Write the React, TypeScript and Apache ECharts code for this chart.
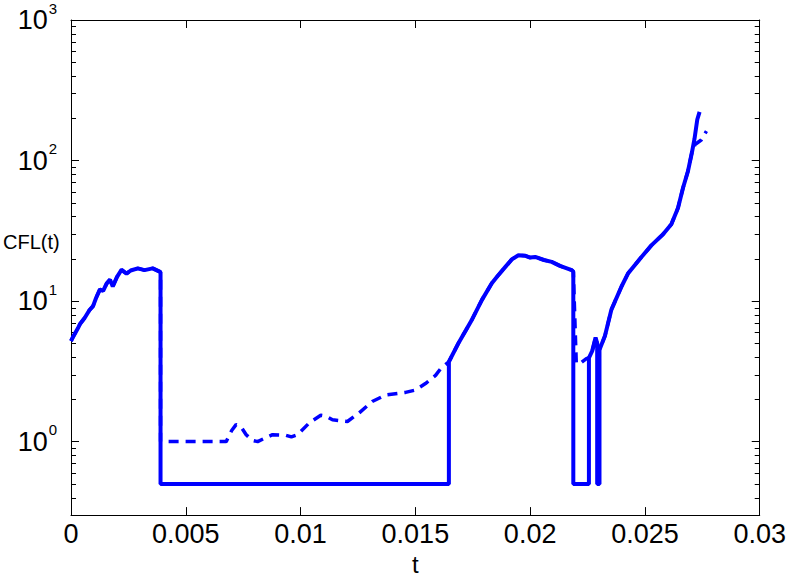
import React, { useEffect, useRef } from "react";
import * as echarts from "echarts";

// ---- data ----
const solidT = [
  0, 0.0001, 0.0003, 0.0004, 0.0006, 0.0008, 0.00096, 0.0011, 0.00126, 0.0014,
  0.00155, 0.0017, 0.00182, 0.002, 0.0022, 0.00242, 0.0026, 0.00291, 0.0032, 0.00356,
  0.00386, 0.0039, 0.0039, 0.01646, 0.01646, 0.0169, 0.0172, 0.01747, 0.0179, 0.01833,
  0.0186, 0.01892, 0.0192, 0.01949, 0.0198, 0.02, 0.02022, 0.0206, 0.02094, 0.0213,
  0.02181, 0.02188, 0.02188, 0.02256, 0.02256, 0.0227, 0.02285, 0.02292, 0.02292, 0.02302,
  0.02302, 0.02326, 0.02354, 0.02398, 0.02427, 0.02485, 0.02528, 0.02579, 0.02615, 0.02644,
  0.02666, 0.02687, 0.02705, 0.02716, 0.02728, 0.02738,
];
const solidV = [
  5.2, 5.6, 6.4, 6.9, 7.6, 8.6, 9.2, 10.6, 12.1, 11.8,
  13.3, 14.2, 12.7, 14.8, 16.7, 15.7, 16.5, 17.1, 16.6, 17.1,
  16.2, 16.0, 0.5, 0.5, 3.7, 5.1, 6.2, 7.4, 10.2, 13.4,
  15.2, 17.5, 19.8, 21.2, 21.0, 20.4, 20.6, 19.6, 19.0, 17.8,
  16.6, 16.2, 0.5, 0.5, 3.95, 4.4, 5.5, 5.0, 0.5, 0.5,
  4.5, 5.66, 8.7, 12.7, 15.8, 20.6, 24.9, 29.9, 35.2, 46,
  64, 83.5, 115, 143, 196, 222,
];

const dashedT = [
  0, 0.0001, 0.0003, 0.0004, 0.0006, 0.0008, 0.00096, 0.0011, 0.00126, 0.0014,
  0.00155, 0.0017, 0.00182, 0.002, 0.0022, 0.00242, 0.0026, 0.00291, 0.0032, 0.00356,
  0.00386, 0.0039, 0.0039, 0.00676, 0.007, 0.00719, 0.0074, 0.00763, 0.0079, 0.00813,
  0.00845, 0.00878, 0.00936, 0.0096, 0.00987, 0.01038, 0.01088, 0.0111, 0.01139, 0.01204,
  0.01255, 0.01312, 0.01371, 0.01457, 0.01501, 0.01544, 0.01588, 0.0161, 0.01646, 0.0169,
  0.0172, 0.01747, 0.0179, 0.01833, 0.0186, 0.01892, 0.0192, 0.01949, 0.0198, 0.02,
  0.02022, 0.0206, 0.02094, 0.0213, 0.02181, 0.02188, 0.02201, 0.02218, 0.02245, 0.02256,
  0.0227, 0.02285, 0.02292, 0.02302, 0.02326, 0.02354, 0.02398, 0.02427, 0.02485, 0.02528,
  0.02579, 0.02615, 0.02644, 0.02666, 0.02687, 0.02705, 0.02718, 0.02745, 0.02768,
];
const dashedV = [
  5.2, 5.6, 6.4, 6.9, 7.6, 8.6, 9.2, 10.6, 12.1, 11.8,
  13.3, 14.2, 12.7, 14.8, 16.7, 15.7, 16.5, 17.1, 16.6, 17.1,
  16.2, 16.0, 1.0, 1.0, 1.2, 1.32, 1.28, 1.12, 1.02, 1.0,
  1.06, 1.12, 1.11, 1.08, 1.12, 1.36, 1.54, 1.52, 1.43, 1.39,
  1.6, 1.93, 2.15, 2.24, 2.33, 2.59, 2.96, 3.3, 3.7, 5.1,
  6.2, 7.4, 10.2, 13.4, 15.2, 17.5, 19.8, 21.2, 21.0, 20.4,
  20.6, 19.6, 19.0, 17.8, 16.6, 16.2, 3.6, 3.6, 3.9, 3.95,
  4.4, 5.5, 5.0, 4.5, 5.66, 8.7, 12.7, 15.8, 20.6, 24.9,
  29.9, 35.2, 46, 64, 83.5, 115, 130, 140, 162,
];

const xTickValues = [0, 0.005, 0.01, 0.015, 0.02, 0.025, 0.03];
const yMajorTicks = [1, 10, 100, 1000];
const yMinorTicks = [
  0.4, 0.5, 0.6, 0.7, 0.8, 0.9,
  2, 3, 4, 5, 6, 7, 8, 9,
  20, 30, 40, 50, 60, 70, 80, 90,
  200, 300, 400, 500, 600, 700, 800, 900,
];

const X_MIN = xTickValues[0];
const X_MAX = xTickValues[xTickValues.length - 1];
const Y_MIN = 0.3;
const Y_MAX = yMajorTicks[yMajorTicks.length - 1];

const FONT = "Liberation Sans, Arial, sans-serif";
const BLUE = "#0000ff";

function zip(a: number[], b: number[]) {
  return a.map((v, i) => [v, b[i]]);
}

export default function App() {
  const ref = useRef<HTMLDivElement>(null);

  useEffect(() => {
    if (!ref.current) return;
    const chart = echarts.init(ref.current, null, { renderer: "svg" });

    const yLabel = {
      show: true,
      margin: 14,
      formatter: (v: number) => {
        const e = Math.log10(v);
        const r = Math.round(e);
        if (Math.abs(e - r) > 1e-6 || !yMajorTicks.some((m) => Math.abs(Math.log10(m) - r) < 1e-6)) return "";
        return `{b|10}{e|${r}}`;
      },
      rich: {
        b: { fontSize: 27, lineHeight: 27, fontFamily: FONT, color: "#000", verticalAlign: "middle" },
        e: {
          fontSize: 15,
          lineHeight: 15,
          fontFamily: FONT,
          color: "#000",
          verticalAlign: "middle",
          padding: [0, 0, 24, 1],
        },
      },
    };

    const option: any = {
      animation: false,
      backgroundColor: "#fff",
      grid: { left: 71, top: 20, right: 27, bottom: 59, containLabel: false },
      xAxis: [
        {
          type: "value",
          min: X_MIN,
          max: X_MAX,
          interval: 0.005,
          position: "bottom",
          name: "t",
          nameLocation: "middle",
          nameGap: 36,
          nameTextStyle: { fontSize: 24, fontFamily: FONT, color: "#000" },
          axisLine: { show: true, onZero: false, lineStyle: { color: "#000", width: 1 } },
          axisTick: { show: true, inside: true, length: 8, lineStyle: { color: "#000" } },
          axisLabel: {
            show: true,
            margin: 5,
            fontSize: 27,
            fontFamily: FONT,
            color: "#000",
            formatter: (v: number) => {
              const m = xTickValues.find((t) => Math.abs(t - v) < 1e-9);
              return m === undefined ? "" : String(m);
            },
          },
          splitLine: { show: false },
        },
        {
          type: "value",
          min: X_MIN,
          max: X_MAX,
          interval: 0.005,
          position: "top",
          axisLine: { show: true, onZero: false, lineStyle: { color: "#000", width: 1 } },
          axisTick: { show: true, inside: true, length: 8, lineStyle: { color: "#000" } },
          axisLabel: { show: false },
          splitLine: { show: false },
        },
      ],
      yAxis: [
        {
          type: "log",
          logBase: 10,
          min: Y_MIN,
          max: Y_MAX,
          position: "left",
          axisLine: { show: true, onZero: false, lineStyle: { color: "#000", width: 1 } },
          axisTick: { show: true, inside: true, length: 8, lineStyle: { color: "#000" } },
          axisLabel: yLabel,
          splitLine: { show: false },
          minorTick: { show: false },
        },
        {
          type: "log",
          logBase: 10,
          min: Y_MIN,
          max: Y_MAX,
          position: "right",
          axisLine: { show: true, onZero: false, lineStyle: { color: "#000", width: 1 } },
          axisTick: { show: true, inside: true, length: 8, lineStyle: { color: "#000" } },
          axisLabel: { show: false },
          splitLine: { show: false },
        },
      ],
      graphic: [
        {
          type: "text",
          left: 3,
          top: 232,
          style: { text: "CFL(t)", fontSize: 20, fontFamily: FONT, fill: "#000" },
        },
      ],
      series: [
        {
          type: "custom",
          name: "minorTicks",
          xAxisIndex: 0,
          yAxisIndex: 0,
          silent: true,
          clip: false,
          data: yMinorTicks.map((v) => [X_MIN, v]),
          renderItem: (params: any, api: any) => {
            const v = api.value(1);
            const pl = api.coord([X_MIN, v]);
            const pr = api.coord([X_MAX, v]);
            const y = Math.round(pl[1]) + 0.5;
            return {
              type: "group",
              children: [
                {
                  type: "line",
                  shape: { x1: pl[0], y1: y, x2: pl[0] + 5, y2: y },
                  style: { stroke: "#000", lineWidth: 1 },
                },
                {
                  type: "line",
                  shape: { x1: pr[0] - 5, y1: y, x2: pr[0], y2: y },
                  style: { stroke: "#000", lineWidth: 1 },
                },
              ],
            };
          },
        },
        {
          type: "line",
          name: "dashed",
          data: zip(dashedT, dashedV),
          showSymbol: false,
          symbol: "none",
          lineStyle: { color: BLUE, width: 3.5, type: [10, 7] },
          z: 3,
        },
        {
          type: "line",
          name: "solid",
          data: zip(solidT, solidV),
          showSymbol: false,
          symbol: "none",
          lineStyle: { color: BLUE, width: 4, type: "solid" },
          z: 4,
        },
      ],
    };

    chart.setOption(option);
    return () => chart.dispose();
  }, []);

  return (
    <div
      ref={ref}
      style={{ position: "fixed", left: 0, top: 0, width: 789, height: 581, background: "#fff" }}
    />
  );
}
